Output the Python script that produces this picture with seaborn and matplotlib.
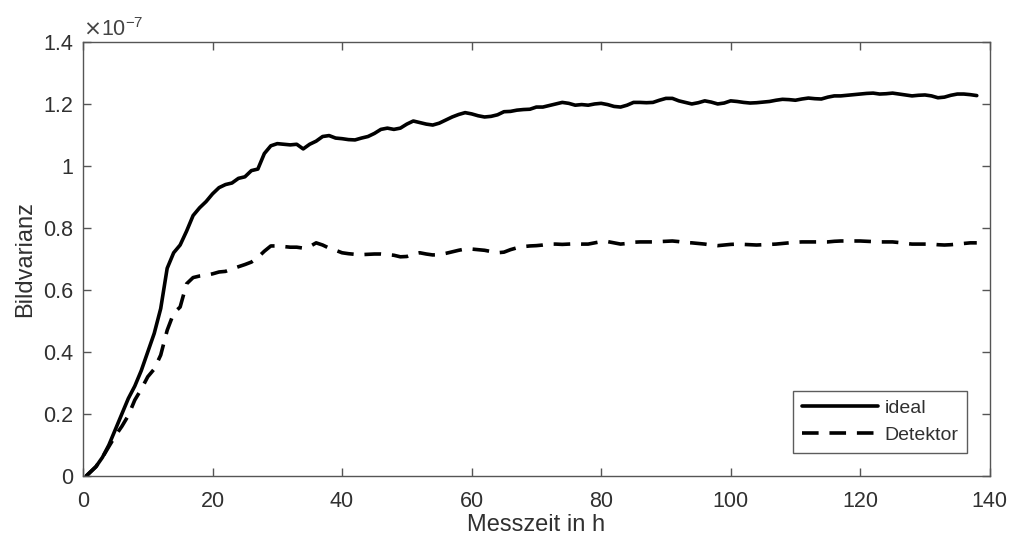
import matplotlib
matplotlib.use("Agg")
import matplotlib.pyplot as plt
import seaborn as sns
import pandas as pd
from matplotlib.ticker import FuncFormatter, MultipleLocator

# --- data (Bildvarianz in units of 1e-7) ---
messzeit = [0.5] + list(range(1, 139))

ideal = [
    0.0, 0.01, 0.03, 0.06, 0.10, 0.15, 0.20, 0.25, 0.29, 0.34,
    0.40, 0.46, 0.54, 0.67, 0.72, 0.745, 0.79, 0.84, 0.865, 0.885,
    0.91, 0.93, 0.94, 0.945, 0.96, 0.965, 0.985, 0.99, 1.04, 1.065,
    1.072, 1.07, 1.068, 1.07, 1.055, 1.07, 1.08, 1.095, 1.098, 1.09,
    1.088, 1.085, 1.084, 1.09, 1.095, 1.105, 1.118, 1.122, 1.118, 1.122,
    1.135, 1.145, 1.14, 1.135, 1.132, 1.138, 1.148, 1.158, 1.166, 1.172,
    1.168, 1.162, 1.158, 1.16, 1.165, 1.175, 1.176, 1.18, 1.182, 1.183,
    1.19, 1.19, 1.195, 1.2, 1.205, 1.202, 1.196, 1.198, 1.196, 1.2,
    1.202, 1.198, 1.192, 1.19, 1.196, 1.205, 1.205, 1.204, 1.205, 1.212,
    1.218, 1.218, 1.21, 1.205, 1.2, 1.204, 1.21, 1.206, 1.2, 1.203,
    1.21, 1.208, 1.205, 1.203, 1.204, 1.206, 1.208, 1.212, 1.215, 1.214,
    1.212, 1.216, 1.219, 1.217, 1.216, 1.222, 1.226, 1.226, 1.228, 1.23,
    1.232, 1.234, 1.235, 1.232, 1.233, 1.235, 1.232, 1.229, 1.226, 1.228,
    1.229, 1.226, 1.22, 1.222, 1.228, 1.232, 1.232, 1.23, 1.227,
]

detektor = [
    0.0, 0.01, 0.03, 0.06, 0.095, 0.13, 0.16, 0.195, 0.245, 0.28,
    0.32, 0.345, 0.39, 0.47, 0.525, 0.545, 0.62, 0.64, 0.645, 0.648,
    0.652, 0.658, 0.66, 0.668, 0.675, 0.682, 0.69, 0.705, 0.725, 0.742,
    0.742, 0.74, 0.738, 0.738, 0.735, 0.74, 0.752, 0.745, 0.735, 0.728,
    0.72, 0.717, 0.715, 0.714, 0.715, 0.716, 0.716, 0.714, 0.712, 0.707,
    0.708, 0.716, 0.72, 0.716, 0.713, 0.714, 0.718, 0.723, 0.728, 0.732,
    0.732, 0.73, 0.728, 0.724, 0.72, 0.722, 0.73, 0.736, 0.74, 0.742,
    0.743, 0.745, 0.748, 0.748, 0.747, 0.748, 0.749, 0.748, 0.748, 0.752,
    0.756, 0.756, 0.752, 0.748, 0.75, 0.754, 0.755, 0.755, 0.755, 0.756,
    0.757, 0.758, 0.756, 0.753, 0.752, 0.75, 0.748, 0.745, 0.743, 0.745,
    0.747, 0.748, 0.747, 0.746, 0.745, 0.746, 0.747, 0.748, 0.75, 0.752,
    0.754, 0.755, 0.755, 0.755, 0.755, 0.755, 0.757, 0.758, 0.758, 0.758,
    0.758, 0.757, 0.756, 0.755, 0.755, 0.755, 0.753, 0.75, 0.748, 0.748,
    0.748, 0.748, 0.746, 0.745, 0.746, 0.748, 0.75, 0.752, 0.752,
]

series_names = ["ideal", "Detektor"]
scale = 1e-7

df = pd.DataFrame({
    "Messzeit": messzeit * 2,
    "Bildvarianz": [v * scale for v in ideal] + [v * scale for v in detektor],
    "Serie": [series_names[0]] * len(messzeit) + [series_names[1]] * len(messzeit),
})

sns.set_style("white")
plt.rcParams["font.family"] = ["Liberation Sans", "DejaVu Sans"]

fig = plt.figure(figsize=(10.12, 5.52), dpi=100)
ax = fig.add_axes([0.082, 0.1377, 0.896, 0.7863])

sns.lineplot(
    data=df, x="Messzeit", y="Bildvarianz", style="Serie", hue="Serie",
    palette={"ideal": "black", "Detektor": "black"},
    dashes={"ideal": "", "Detektor": (4.6, 3.0)},
    linewidth=2.6, ax=ax, legend=True,
)

ax.set_xlim(0, 140)
ax.set_ylim(0, 1.4e-7)
ax.xaxis.set_major_locator(MultipleLocator(20))
ax.yaxis.set_major_locator(MultipleLocator(0.2e-7))
ax.yaxis.set_major_formatter(FuncFormatter(lambda v, _: f"{round(v * 1e7, 2):g}"))

axcol = "#303030"
for s in ax.spines.values():
    s.set_visible(True)
    s.set_color("#555555")
    s.set_linewidth(1.0)
ax.tick_params(direction="in", length=6, width=1, color="#555555",
               labelsize=15.5, labelcolor=axcol, top=True, right=True,
               bottom=True, left=True)
ax.tick_params(axis="x", pad=11)
ax.tick_params(axis="y", pad=7)

ax.set_xlabel("Messzeit in h", fontsize=17, color=axcol, labelpad=1)
ax.set_ylabel("Bildvarianz", fontsize=17, color=axcol, labelpad=5)
ax.text(0.0, 1.014, r"$\times$10$^{\mathregular{-7}}$", transform=ax.transAxes,
        fontsize=15.5, color="#444444", ha="left", va="baseline")

handles, labels = ax.get_legend_handles_labels()
leg = ax.legend(handles, labels, loc="lower right", bbox_to_anchor=(0.975, 0.053),
                borderaxespad=0, fontsize=14, frameon=True, fancybox=False,
                handlelength=3.9, handletextpad=0.35, labelspacing=0.5,
                borderpad=0.45)
leg.get_frame().set_edgecolor("#333333")
leg.get_frame().set_linewidth(1.0)
for t in leg.get_texts():
    t.set_color(axcol)

fig.savefig("out.png", dpi=100)
